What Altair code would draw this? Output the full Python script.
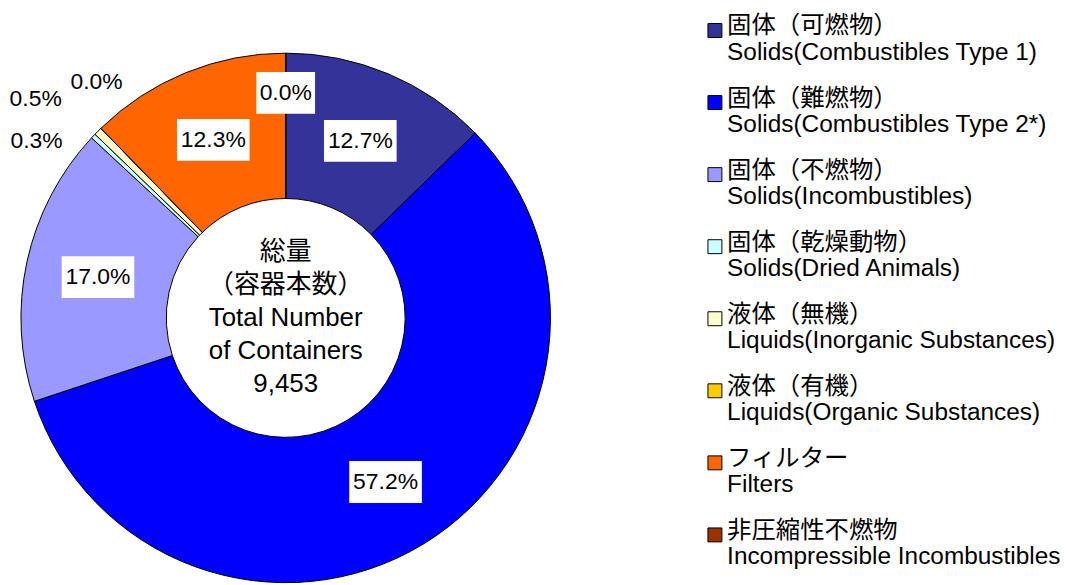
import altair as alt
import pandas as pd

FONT = "Liberation Sans, Arial, Noto Sans CJK JP, sans-serif"

jp_names = ["固体（可燃物）", "固体（難燃物）", "固体（不燃物）", "固体（乾燥動物）",
            "液体（無機）", "液体（有機）", "フィルター", "非圧縮性不燃物"]
en_names = ["Solids(Combustibles Type 1)", "Solids(Combustibles Type 2*)",
            "Solids(Incombustibles)", "Solids(Dried Animals)",
            "Liquids(Inorganic Substances)", "Liquids(Organic Substances)",
            "Filters", "Incompressible Incombustibles"]
shares = [12.7, 57.2, 17.0, 0.3, 0.5, 0.0, 12.3, 0.0]
colors = ["#333399", "#0000FF", "#9999FF", "#CCFFFF", "#FFFFCC", "#FFCC00", "#FF6600", "#993300"]
center_lines = ["総量", "（容器本数）", "Total Number", "of Containers", "9,453"]

cats = [j + "|" + e for j, e in zip(jp_names, en_names)]
df = pd.DataFrame({"cat": cats, "v": shares, "idx": list(range(len(cats)))})

R_OUT, R_IN = 266, 120

xs = alt.Scale(domain=[-R_OUT, R_OUT], nice=False, zero=False)
ys = alt.Scale(domain=[-R_OUT, R_OUT], nice=False, zero=False)

arcs = alt.Chart(df).mark_arc(
    outerRadius=R_OUT, innerRadius=R_IN, stroke="black", strokeWidth=1
).encode(
    theta=alt.Theta("v:Q", stack=True),
    order=alt.Order("idx:Q", sort="ascending"),
    color=alt.Color(
        "cat:N",
        scale=alt.Scale(domain=cats, range=colors),
        legend=alt.Legend(
            title=None, orient="none", legendX=685, legendY=-39,
            labelExpr="split(datum.label, '|')",
            labelFontSize=24.5, labelFont=FONT, labelColor="black", labelLimit=600,
            labelOffset=0, symbolType="M-1,-0.43H1V1.57H-1Z", symbolSize=196,
            symbolStrokeColor="black", symbolStrokeWidth=1, rowPadding=20.4,
            padding=0, symbolOpacity=1,
        ),
    ),
)

lab = alt.Chart(df).transform_window(
    cum="sum(v)", sort=[alt.SortField("idx")], frame=[None, 0]
).transform_joinaggregate(tot="sum(v)").transform_calculate(
    outside="datum.v < 1 && datum.idx < 7",
    mid="2*PI*(datum.cum - datum.v/2)/datum.tot",
).transform_calculate(
    ang="datum.mid + (datum.outside ? [-8, -3.6, 5.6][datum.idx-3] * PI/180 : 0)",
    r="datum.outside ? (datum.idx == 4 ? 334 : (datum.idx == 3 ? 307 : 304)) : (datum.v < 0.05 ? 226 : 193)",
    label="format(datum.v, '.1f') + '%'",
).transform_calculate(
    lx="datum.r * sin(datum.ang)",
    ly="datum.r * cos(datum.ang)",
    hw="7 * length(datum.label) + 1.5",
).transform_calculate(
    x1="datum.lx - datum.hw", x2="datum.lx + datum.hw",
    y1="datum.ly - 21", y2="datum.ly + 21",
)

boxes = lab.transform_filter("!datum.outside").mark_rect(fill="white").encode(
    x=alt.X("x1:Q", scale=xs, axis=None),
    x2="x2:Q",
    y=alt.Y("y1:Q", scale=ys, axis=None),
    y2="y2:Q",
)

texts = lab.mark_text(fontSize=23, font=FONT, color="black", align="center", baseline="middle").encode(
    x=alt.X("lx:Q", scale=xs, axis=None),
    y=alt.Y("ly:Q", scale=ys, axis=None),
    text="label:N",
)

center = alt.Chart(pd.DataFrame({"k": [0]})).mark_text(
    fontSize=26, font=FONT, lineHeight=33, color="black", align="center", baseline="middle", dy=-66
).encode(text=alt.value(center_lines))

chart = alt.layer(arcs, boxes, texts, center).properties(
    width=2 * R_OUT, height=2 * R_OUT,
    autosize=alt.AutoSizeParams(type="none"),
    padding={"left": 13, "top": 44, "right": 520, "bottom": 2},
    background="white",
).configure_view(stroke=None)

chart.save("out.html", embed_options={"renderer": "svg", "actions": False})
